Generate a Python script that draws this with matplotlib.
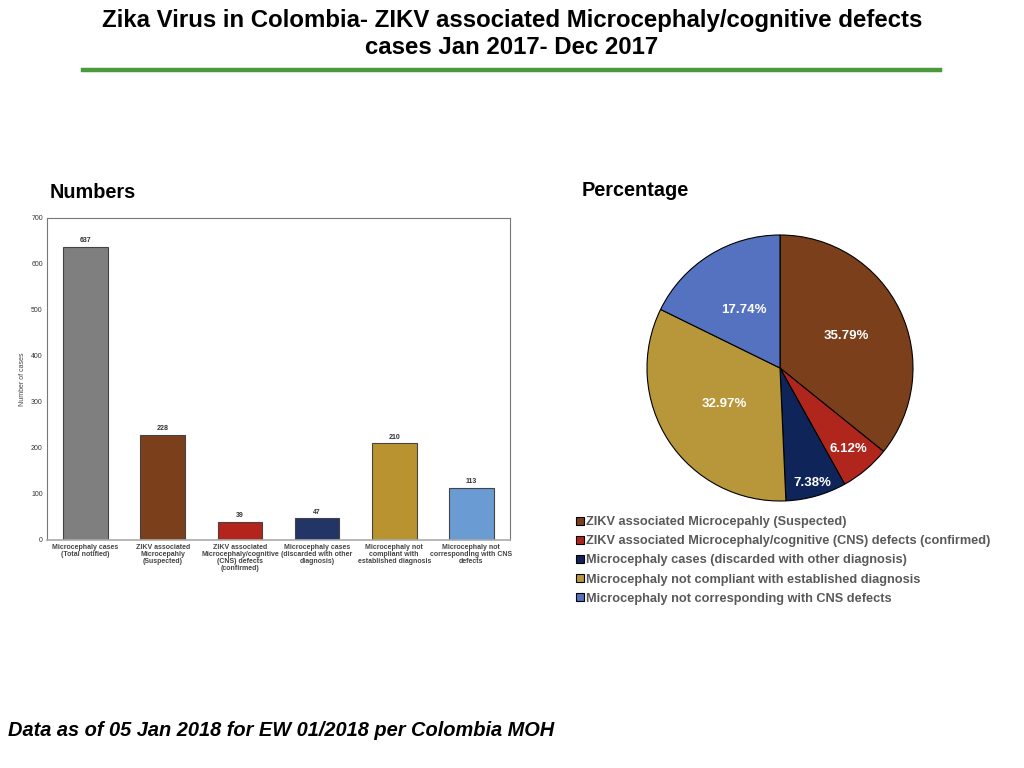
import matplotlib
matplotlib.use("Agg")
import matplotlib.pyplot as plt
import numpy as np

plt.rcParams['font.family'] = ['Liberation Sans', 'DejaVu Sans']

categories = [
    "Microcephaly cases\n(Total notified)",
    "ZIKV associated\nMicrocepahly\n(Suspected)",
    "ZIKV associated\nMicrocephaly/cognitive\n(CNS) defects\n(confirmed)",
    "Microcephaly cases\n(discarded with other\ndiagnosis)",
    "Microcephaly not\ncompliant with\nestablished diagnosis",
    "Microcephaly not\ncorresponding with CNS\ndefects",
]
counts = [637, 228, 39, 47, 210, 113]
bar_colors = ["#7f7f7f", "#7b3f1b", "#b2241c", "#233566", "#b8932f", "#6a9bd2"]

pie_labels = [
    "ZIKV associated Microcepahly (Suspected)",
    "ZIKV associated Microcephaly/cognitive (CNS) defects (confirmed)",
    "Microcephaly cases (discarded with other diagnosis)",
    "Microcephaly not compliant with established diagnosis",
    "Microcephaly not corresponding with CNS defects",
]
pie_values = [228, 39, 47, 210, 113]
pie_colors = ["#7b3f1b", "#b0251c", "#0f2459", "#b8963a", "#5472c0"]
yticks = [0, 100, 200, 300, 400, 500, 600, 700]

fig = plt.figure(figsize=(10.24, 7.68), dpi=100)

# Title
fig.text(0.5, 1-34/768, "Zika Virus in Colombia- ZIKV associated Microcephaly/cognitive defects\ncases Jan 2017- Dec 2017",
         ha="center", va="center", fontsize=17.3, fontweight="bold", linespacing=1.25)
fig.add_artist(plt.Line2D([83/1024, 940/1024], [1-70/768, 1-70/768], color="#4a9a3a", lw=3.2))

fig.text(50/1024, 1-193/768, "Numbers", ha="left", va="center", fontsize=14.3, fontweight="bold")
fig.text(582/1024, 1-190/768, "Percentage", ha="left", va="center", fontsize=14.3, fontweight="bold")
fig.text(8/1024, 1-730/768, "Data as of 05 Jan 2018 for EW 01/2018 per Colombia MOH",
         ha="left", va="center", fontsize=14.4, fontweight="bold", style="italic")

# Bar chart
ax = fig.add_axes([47/1024, 1-540/768, 463/1024, 322/768])
x = np.arange(len(counts))
bars = ax.bar(x, counts, width=0.58, color=bar_colors, edgecolor="#444444", linewidth=0.8)
for xi, v in zip(x, counts):
    ax.text(xi, v + 6, str(v), ha="center", va="bottom", fontsize=5, color="#333333", fontweight="bold")
ax.set_xlim(-0.5, len(counts) - 0.5)
ax.set_ylim(0, 700)
ax.set_yticks(yticks)
ax.set_yticklabels([str(t) for t in yticks], fontsize=5, color="#333333")
ax.set_xticks(x)
ax.set_xticklabels(categories, fontsize=5, color="#444444", fontweight="bold", linespacing=1.0)
ax.tick_params(length=0, pad=3)
ax.set_ylabel("Number of cases", fontsize=5, color="#444444", labelpad=4)
for s in ax.spines.values():
    s.set_color("#777777")
    s.set_linewidth(0.8)
ax.spines["bottom"].set_color("#aaaaaa")
ax.spines["bottom"].set_linewidth(1.2)

# Pie chart
pax = fig.add_axes([(780-133)/1024, 1-(368+133)/768, 266/1024, 266/768])
wedges, texts, autotexts = pax.pie(pie_values, colors=pie_colors, startangle=90, counterclock=False,
                                   autopct="%.2f%%", pctdistance=0.55,
                                   wedgeprops=dict(edgecolor="black", linewidth=0.8),
                                   textprops=dict(color="white", fontsize=9.5, fontweight="bold"))
dist = [0.55, 0.8, 0.9, 0.5, 0.51]
for w, t, d in zip(wedges, autotexts, dist):
    ang = np.deg2rad((w.theta1 + w.theta2) / 2)
    t.set_position((d * np.cos(ang), d * np.sin(ang)))
pax.set_xlim(-1, 1)
pax.set_ylim(-1, 1)
pax.set_aspect("equal")

leg = fig.legend(wedges, pie_labels, loc="upper left", bbox_to_anchor=(571/1024, 1-511/768),
                 frameon=False, fontsize=9.2, handlelength=0.6, handleheight=0.6, handletextpad=0.2,
                 labelspacing=0.56, borderaxespad=0)
for t in leg.get_texts():
    t.set_color("#595959")
    t.set_fontweight("bold")

fig.savefig("out.png", dpi=100)
